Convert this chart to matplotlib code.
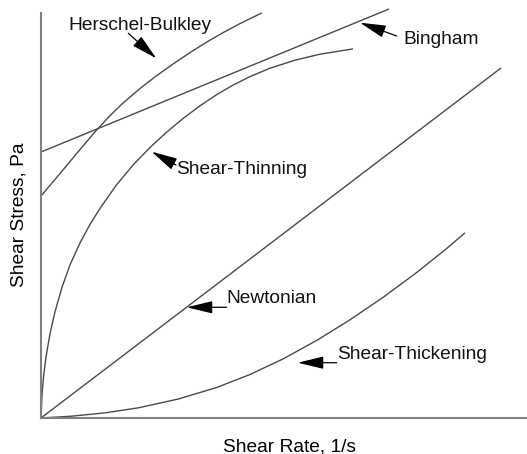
import matplotlib
matplotlib.use("Agg")
import matplotlib.pyplot as plt

plt.rcParams['font.family'] = ['Liberation Sans', 'DejaVu Sans']

# Shear rate / shear stress readings (arbitrary units)
newtonian_x = [0, 460]
newtonian_y = [0, 350]

bingham_x = [0, 348]
bingham_y = [266, 409]

hb_x = [0, 17, 37, 54.3, 68, 80.3, 99, 115.7, 132.3, 149, 165.7, 182.3, 199, 220.7]
hb_y = [222, 242.1, 266.1, 286.5, 301.3, 313.4, 329.5, 342.4, 354.2, 365.4, 375.9, 385.5,
        394.4, 405]

thin_x = [0, 1, 2.5, 5, 9, 14, 21, 29, 39, 49, 59, 75.7, 92.3, 109, 125.7, 142.3, 159,
          175.7, 192.3, 209, 229, 254, 279, 312]
thin_y = [0, 23, 41, 61, 84.2, 106.2, 130.7, 153.1, 175.1, 193.6, 209.6, 233.4, 253.3,
          270.5, 285.9, 299.7, 312.2, 323.4, 333, 341.4, 349.8, 357.8, 363.8, 369.1]

thick_x = [0, 30.3, 63.7, 97, 137, 175.7, 209, 242.3, 275.7, 309, 342.3, 375.7, 405.7, 424]
thick_y = [0, 1.8, 5.1, 10.1, 18.9, 30.5, 43.5, 59.2, 77.6, 98.2, 120.8, 145.5, 169.5, 185.2]

labels = ["Herschel-Bulkley", "Bingham", "Shear-Thinning", "Newtonian", "Shear-Thickening"]
label_pos = [(27, 388.5), (362, 374), (135, 244), (185.7, 114.7), (295.7, 58.7)]
arrow_tail = [(87.3, 384.7), (355.7, 382), (135, 253), (185.7, 110.7), (295.7, 55.3)]
arrow_tip = [(115.3, 359.7), (319, 395.3), (110.7, 266.3), (145.7, 110.7), (256.7, 55.3)]

W, H = 527, 454
fig = plt.figure(figsize=(W / 100, H / 100), dpi=100)
ax = fig.add_axes([41 / W, 1 - 418 / H, (W - 41) / W, (418 - 13) / H])
ax.set_xlim(0, 486)
ax.set_ylim(0, 405)

curve_kw = dict(color='#4a4a4a', lw=1.0, solid_capstyle='butt', solid_joinstyle='round',
                clip_on=False)
ax.plot(newtonian_x, newtonian_y, **curve_kw)
ax.plot(bingham_x, bingham_y, **curve_kw)
ax.plot(hb_x, hb_y, **curve_kw)
ax.plot(thin_x, thin_y, **curve_kw)
ax.plot(thick_x, thick_y, **curve_kw)

for lab, pos, tail, tip in zip(labels, label_pos, arrow_tail, arrow_tip):
    ax.text(pos[0], pos[1], lab, fontsize=13.8, ha='left', va='baseline', color='#111111')
    ax.annotate('', xy=tip, xytext=tail,
                arrowprops=dict(arrowstyle='-|>,head_length=1.0,head_width=0.24',
                                mutation_scale=16, color='black', lw=0.9,
                                shrinkA=0, shrinkB=0))

for s in ['top', 'right']:
    ax.spines[s].set_visible(False)
for s in ['left', 'bottom']:
    ax.spines[s].set_color('#808080')
    ax.spines[s].set_linewidth(1.5)
ax.set_xticks([])
ax.set_yticks([])

fig.text(289.5 / W, 1 - 451 / H, "Shear Rate, 1/s", fontsize=13.8, ha='center', va='baseline')
fig.text(19 / W, 1 - 215 / H, "Shear Stress, Pa", fontsize=13.8, ha='center', va='center',
         rotation=90)

fig.savefig("out.png", dpi=100)
